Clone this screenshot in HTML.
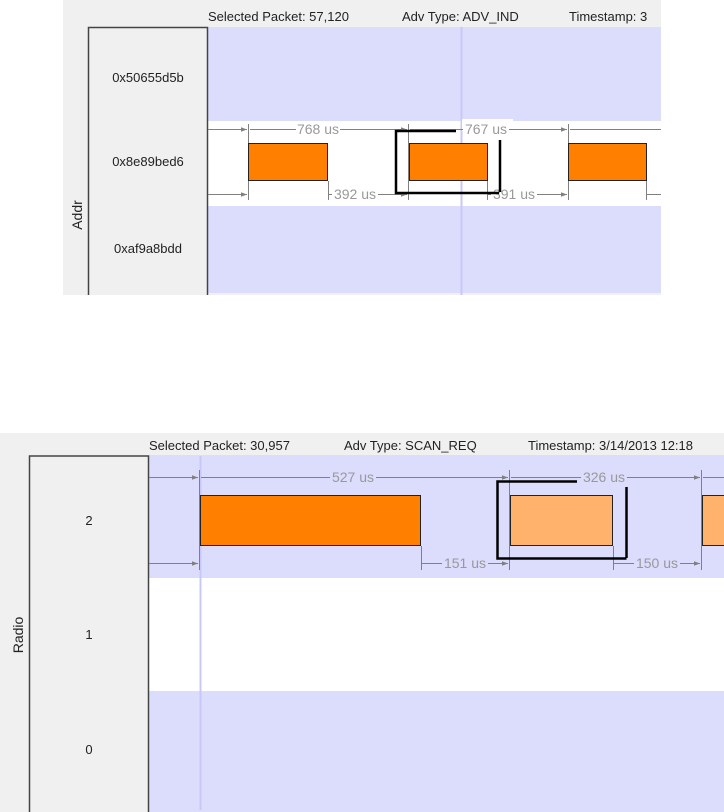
<!DOCTYPE html>
<html><head><style>
body{margin:0;background:#fff;width:724px;height:812px;overflow:hidden}
svg{display:block}
text{font-family:"Liberation Sans",Arial,sans-serif}
</style></head><body>
<svg width="724" height="812" viewBox="0 0 724 812">
<defs>
<marker id="a" viewBox="0 0 8 8" refX="8" refY="4" markerWidth="6" markerHeight="6" orient="auto"><path d="M0,1 L8,4 L0,7 z" fill="#808080"/></marker>
</defs>
<!-- TOP PANEL -->
<rect x="63" y="0" width="598" height="295" fill="#f0f0f0"/>
<text x="208" y="21" font-size="13" fill="#222">Selected Packet: 57,120</text>
<text x="402" y="21" font-size="13" fill="#222">Adv Type: ADV_IND</text>
<text x="569" y="21" font-size="13" fill="#222">Timestamp: 3</text>
<rect x="208" y="27" width="453" height="94" fill="#dcdcfc"/>
<rect x="208" y="121" width="453" height="85" fill="#fff"/>
<rect x="208" y="206" width="453" height="87" fill="#dcdcfc"/>
<path d="M88.5,295 V27.5 H207.5 V295" fill="#f0f0f0" stroke="#444" stroke-width="1.5"/>
<text x="148" y="82" font-size="13" text-anchor="middle" fill="#222">0x50655d5b</text>
<text x="148" y="166" font-size="13" text-anchor="middle" fill="#222">0x8e89bed6</text>
<text x="148" y="253" font-size="13" text-anchor="middle" fill="#222">0xaf9a8bdd</text>
<text transform="translate(82,215) rotate(-90)" font-size="14" text-anchor="middle" fill="#222">Addr</text>
<line x1="461.5" y1="27" x2="461.5" y2="295" stroke="#c8c8f8" stroke-width="2"/>
<rect x="462" y="119" width="51" height="12" fill="#fff"/>
<g stroke="#808080" stroke-width="1" fill="none">
<line x1="208" y1="129.5" x2="247" y2="129.5" marker-end="url(#a)"/>
<line x1="208" y1="194.5" x2="247" y2="194.5" marker-end="url(#a)"/>
<line x1="248.5" y1="124" x2="248.5" y2="200"/>
<line x1="328.5" y1="181" x2="328.5" y2="200"/>
<line x1="408.5" y1="124" x2="408.5" y2="200"/>
<line x1="487.5" y1="181" x2="487.5" y2="200"/>
<line x1="568.5" y1="124" x2="568.5" y2="200"/>
<line x1="646.5" y1="181" x2="646.5" y2="200"/>
<line x1="250" y1="129.5" x2="296" y2="129.5"/>
<line x1="340" y1="129.5" x2="407" y2="129.5" marker-end="url(#a)"/>
<line x1="410" y1="129.5" x2="463" y2="129.5"/>
<line x1="509" y1="129.5" x2="567" y2="129.5" marker-end="url(#a)"/>
<line x1="570" y1="129.5" x2="661" y2="129.5"/>
<line x1="329" y1="194.5" x2="332" y2="194.5"/>
<line x1="378" y1="194.5" x2="407" y2="194.5" marker-end="url(#a)"/>
<line x1="488" y1="194.5" x2="491" y2="194.5"/>
<line x1="537" y1="194.5" x2="567" y2="194.5" marker-end="url(#a)"/>
<line x1="647" y1="194.5" x2="661" y2="194.5"/>
</g>
<text x="318" y="134" font-size="14" text-anchor="middle" fill="#999">768 us</text>
<text x="486" y="134" font-size="14" text-anchor="middle" fill="#999">767 us</text>
<text x="355" y="199" font-size="14" text-anchor="middle" fill="#999">392 us</text>
<text x="514" y="199" font-size="14" text-anchor="middle" fill="#999">391 us</text>
<g fill="#ff8000" stroke="#222" stroke-width="1">
<rect x="248.5" y="143.5" width="79" height="37"/>
<rect x="409.5" y="143.5" width="78" height="37"/>
<rect x="568.5" y="143.5" width="78" height="37"/>
</g>
<path d="M456,131 H396 V193 H499 M500,140 V192" stroke="#000" stroke-width="2.5" fill="none"/>

<!-- BOTTOM PANEL -->
<rect x="0" y="433" width="724" height="379" fill="#f0f0f0"/>
<text x="149" y="450" font-size="13" fill="#222">Selected Packet: 30,957</text>
<text x="344" y="450" font-size="13" fill="#222">Adv Type: SCAN_REQ</text>
<text x="528" y="450" font-size="13" fill="#222">Timestamp: 3/14/2013 12:18</text>
<rect x="149" y="455" width="575" height="123" fill="#dcdcfc"/>
<rect x="149" y="578" width="575" height="113" fill="#fff"/>
<rect x="149" y="691" width="575" height="121" fill="#dcdcfc"/>
<path d="M29.5,812 V456 H148.5 V812" fill="#f0f0f0" stroke="#444" stroke-width="1.5"/>
<text x="89" y="525" font-size="13" text-anchor="middle" fill="#222">2</text>
<text x="89" y="639" font-size="13" text-anchor="middle" fill="#222">1</text>
<text x="89" y="754" font-size="13" text-anchor="middle" fill="#222">0</text>
<text transform="translate(23,635) rotate(-90)" font-size="14" text-anchor="middle" fill="#222">Radio</text>
<line x1="200.5" y1="456" x2="200.5" y2="810" stroke="#c8c8f8" stroke-width="2"/>
<g stroke="#808080" stroke-width="1" fill="none">
<line x1="149" y1="477.5" x2="198" y2="477.5" marker-end="url(#a)"/>
<line x1="149" y1="563.5" x2="198" y2="563.5" marker-end="url(#a)"/>
<line x1="199.5" y1="470" x2="199.5" y2="570"/>
<line x1="421.5" y1="546" x2="421.5" y2="570"/>
<line x1="509.5" y1="470" x2="509.5" y2="570"/>
<line x1="613.5" y1="546" x2="613.5" y2="570"/>
<line x1="701.5" y1="470" x2="701.5" y2="570"/>
<line x1="201" y1="477.5" x2="330" y2="477.5"/>
<line x1="376" y1="477.5" x2="508" y2="477.5" marker-end="url(#a)"/>
<line x1="511" y1="477.5" x2="581" y2="477.5"/>
<line x1="627" y1="477.5" x2="700" y2="477.5" marker-end="url(#a)"/>
<line x1="703" y1="477.5" x2="724" y2="477.5"/>
<line x1="422" y1="563.5" x2="442" y2="563.5"/>
<line x1="488" y1="563.5" x2="508" y2="563.5" marker-end="url(#a)"/>
<line x1="614" y1="563.5" x2="634" y2="563.5"/>
<line x1="680" y1="563.5" x2="700" y2="563.5" marker-end="url(#a)"/>
</g>
<text x="353" y="482" font-size="14" text-anchor="middle" fill="#999">527 us</text>
<text x="604" y="482" font-size="14" text-anchor="middle" fill="#999">326 us</text>
<text x="465" y="568" font-size="14" text-anchor="middle" fill="#999">151 us</text>
<text x="657" y="568" font-size="14" text-anchor="middle" fill="#999">150 us</text>
<rect x="200.5" y="495.5" width="220" height="50" fill="#ff8000" stroke="#222"/>
<rect x="510.5" y="495.5" width="102" height="50" fill="#ffb26b" stroke="#222"/>
<rect x="702.5" y="495.5" width="30" height="50" fill="#ffb26b" stroke="#222"/>
<path d="M577,481.5 H497.5 V558.5 H626.5 M626.5,487 V558" stroke="#000" stroke-width="2.5" fill="none"/>
</svg>
</body></html>
